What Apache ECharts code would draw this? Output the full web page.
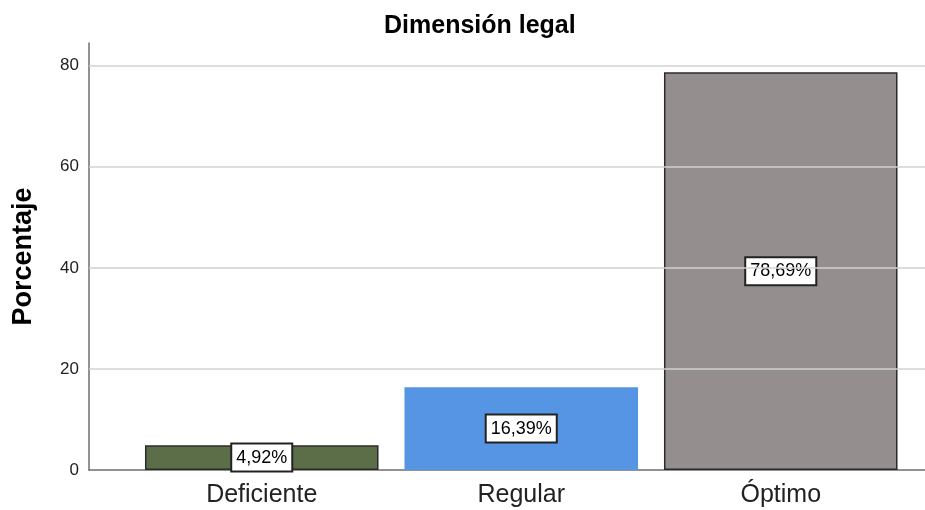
<!DOCTYPE html>
<html>
<head>
<meta charset="utf-8">
<script src="https://cdn.jsdelivr.net/npm/echarts@6/dist/echarts.min.js"></script>
<style>
  html, body { margin: 0; padding: 0; background: #fff; }
  #chart { width: 925px; height: 510px; }
</style>
</head>
<body>
<div id="chart"></div>
<script>
// Dimensión legal — barras de porcentaje por nivel
const categories = ['Deficiente', 'Regular', 'Óptimo']
const percentValues = [4.92, 16.39, 78.69]
const yTicks = [0, 20, 40, 60, 80]
const yMax = 84.5

const barColors = ['#5c6e47', '#5595e4', '#948f8e']
const barBorders = ['#2b2b2b', '#5595e4', '#2b2b2b']

const chart = echarts.init(document.getElementById('chart'))

const option = {
  animation: false,
  textStyle: { fontFamily: 'Liberation Sans, Arial, sans-serif' },
  title: {
    text: 'Dimensión legal',
    left: 379,
    top: 9,
    textStyle: { fontSize: 25, fontWeight: 'bold', color: '#000' }
  },
  // grid 0: ejes y líneas de fondo; grid 1: barras
  grid: [
    { left: 89, right: 0, top: 43, bottom: 40 },
    { left: 132, right: 14.5, top: 43, bottom: 40 }
  ],
  xAxis: [
    {
      gridIndex: 0,
      type: 'value',
      min: 0,
      max: 1,
      axisLine: { show: true, lineStyle: { color: '#6e6e6e', width: 1.5 } },
      axisTick: { show: false },
      axisLabel: { show: false },
      splitLine: { show: false }
    },
    {
      gridIndex: 1,
      type: 'category',
      data: categories,
      axisLine: { show: false },
      axisTick: { show: false },
      axisLabel: { fontSize: 25, color: '#222', margin: 13 }
    }
  ],
  yAxis: [
    {
      gridIndex: 0,
      type: 'value',
      min: 0,
      max: yMax,
      interval: 20,
      name: 'Porcentaje',
      nameLocation: 'middle',
      nameGap: 52,
      nameTextStyle: { fontSize: 27, fontWeight: 'bold', color: '#000' },
      axisLine: { show: true, lineStyle: { color: '#6e6e6e', width: 1.5 } },
      axisTick: { show: false },
      axisLabel: { fontSize: 17, color: '#222', margin: 10, showMaxLabel: false },
      splitLine: { show: false }
    },
    {
      gridIndex: 1,
      type: 'value',
      min: 0,
      max: yMax,
      show: false
    }
  ],
  series: [
    {
      // líneas de cuadrícula en los valores de yTicks
      type: 'line',
      xAxisIndex: 0,
      yAxisIndex: 0,
      data: [],
      z: 1,
      silent: true,
      markLine: {
        silent: true,
        symbol: 'none',
        label: { show: false },
        lineStyle: { color: '#d2d2d2', width: 1.5, type: 'solid' },
        data: yTicks.filter(v => v > 0).map(v => ({ yAxis: v }))
      }
    },
    {
      type: 'bar',
      xAxisIndex: 1,
      yAxisIndex: 1,
      z: 3,
      barCategoryGap: '10%',
      data: percentValues.map((v, i) => ({
        value: v,
        itemStyle: { color: barColors[i], borderColor: barBorders[i], borderWidth: 1.5 }
      })),
      label: {
        show: true,
        position: 'inside',
        color: '#000',
        fontSize: 18,
        backgroundColor: '#fff',
        borderColor: '#222',
        borderWidth: 2,
        padding: [5, 4, 3, 4],
        formatter: p => p.value.toFixed(2).replace('.', ',') + '%'
      }
    }
  ]
}

chart.setOption(option)
</script>
</body>
</html>
